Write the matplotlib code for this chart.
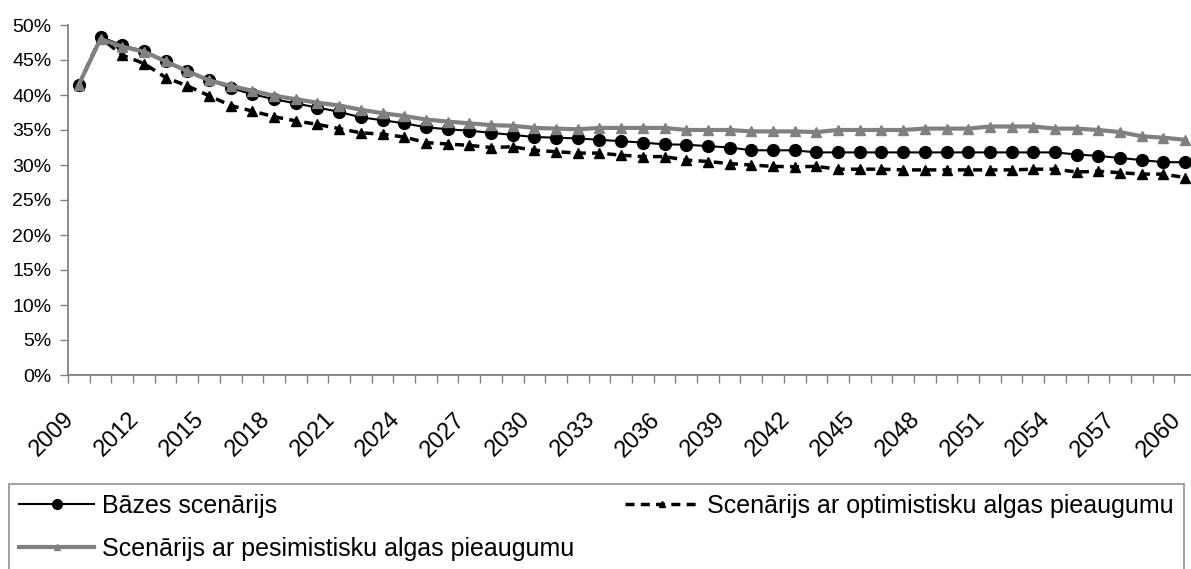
import numpy as np
import matplotlib
matplotlib.use("Agg")
import matplotlib.pyplot as plt
from matplotlib.ticker import FixedLocator, PercentFormatter
from matplotlib.transforms import ScaledTranslation

plt.rcParams['font.family'] = ['Liberation Sans', 'DejaVu Sans']

years = list(range(2009, 2061))

# values in percent
base = [41.5, 48.3, 47.1, 46.3, 44.9, 43.5, 42.1, 41.0, 40.1, 39.4,
        38.8, 38.2, 37.6, 36.8, 36.4, 35.95, 35.4, 35.1, 34.9, 34.6,
        34.3, 34.0, 33.9, 33.8, 33.6, 33.4, 33.2, 32.95, 32.9, 32.7,
        32.5, 32.1, 32.1, 32.1, 31.8, 31.8, 31.8, 31.8, 31.8, 31.8,
        31.8, 31.8, 31.8, 31.8, 31.8, 31.8, 31.5, 31.3, 31.0, 30.7,
        30.4, 30.4]
optimistic = [41.5, 48.2, 45.7, 44.5, 42.5, 41.3, 39.9, 38.5, 37.7, 36.9,
              36.3, 35.8, 35.2, 34.6, 34.4, 34.0, 33.2, 33.0, 32.8, 32.5,
              32.6, 32.1, 31.9, 31.7, 31.7, 31.4, 31.2, 31.2, 30.7, 30.5,
              30.2, 30.0, 29.8, 29.75, 29.8, 29.4, 29.4, 29.4, 29.3, 29.3,
              29.3, 29.3, 29.3, 29.3, 29.4, 29.4, 29.0, 29.1, 28.9, 28.7,
              28.7, 28.2]
pessimistic = [41.5, 48.0, 46.9, 46.2, 44.8, 43.4, 42.1, 41.3, 40.6, 39.9,
               39.4, 38.9, 38.5, 37.9, 37.4, 37.0, 36.5, 36.2, 35.95, 35.7,
               35.6, 35.3, 35.2, 35.1, 35.3, 35.3, 35.3, 35.3, 35.0, 35.0,
               35.0, 34.8, 34.8, 34.8, 34.7, 35.0, 35.0, 35.0, 35.0, 35.2,
               35.2, 35.2, 35.5, 35.5, 35.5, 35.2, 35.2, 35.0, 34.7, 34.1,
               33.9, 33.6]

labels = ["Bāzes scenārijs",
          "Scenārijs ar optimistisku algas pieaugumu",
          "Scenārijs ar pesimistisku algas pieaugumu"]

W, H = 1191, 569
fig = plt.figure(figsize=(W / 100, H / 100), dpi=100)
ax = fig.add_axes([68 / W, (H - 375) / H, (1196 - 68) / W, 350 / H])

x = np.arange(len(years))
l1, = ax.plot(x, base, color='black', lw=1.5, marker='o', ms=8.5, zorder=3)
l2, = ax.plot(x, optimistic, color='black', lw=2.5, ls=(0, (2.6, 1.8)),
              marker='^', ms=7.5, zorder=4)
l3, = ax.plot(x, pessimistic, color='#808080', lw=3, marker='^', ms=7.5,
              zorder=5)

ax.set_xlim(-0.5, len(years) - 0.5)
ax.set_ylim(0, 50)
ax.set_yticks(np.arange(0, 51, 5))
ax.yaxis.set_major_formatter(PercentFormatter(decimals=0))

# tick marks between categories, labels every third year
ax.xaxis.set_major_locator(FixedLocator(np.arange(-0.5, len(years), 1)))
ax.set_xticklabels([])
ax.xaxis.set_minor_locator(FixedLocator(x[::3]))
ax.set_xticklabels([str(years[i]) for i in x[::3]], minor=True,
                   rotation=45, ha='right', va='top', fontsize=17)
shift = ScaledTranslation(-9 / 100, 0, fig.dpi_scale_trans)
for t in ax.xaxis.get_minorticklabels():
    t.set_transform(t.get_transform() + shift)
ax.tick_params(axis='x', which='minor', length=0, pad=24)
ax.tick_params(axis='x', which='major', length=6, width=1, color='#808080')
ax.tick_params(axis='y', length=6, width=1, color='#808080', labelsize=14,
               pad=6)

for s in ['top', 'right']:
    ax.spines[s].set_visible(False)
for s in ['left', 'bottom']:
    ax.spines[s].set_color('#808080')
    ax.spines[s].set_linewidth(1.3)

leg = fig.legend([l1, l3, l2], [labels[0], labels[2], labels[1]],
                 ncol=2, loc='upper left',
                 bbox_to_anchor=(9 / W, 1 - 484 / H, (1184 - 9) / W, 0),
                 mode='expand', fontsize=18, handlelength=3.0,
                 frameon=True, fancybox=False,
                 edgecolor='#808080', borderpad=0.4, labelspacing=0.75,
                 handletextpad=0.3, borderaxespad=0)
leg.get_frame().set_linewidth(1.3)
for h, ms in zip(leg.legend_handles, [7, 5, 5]):
    h.set_markersize(ms)

fig.savefig('out.png', dpi=100)
